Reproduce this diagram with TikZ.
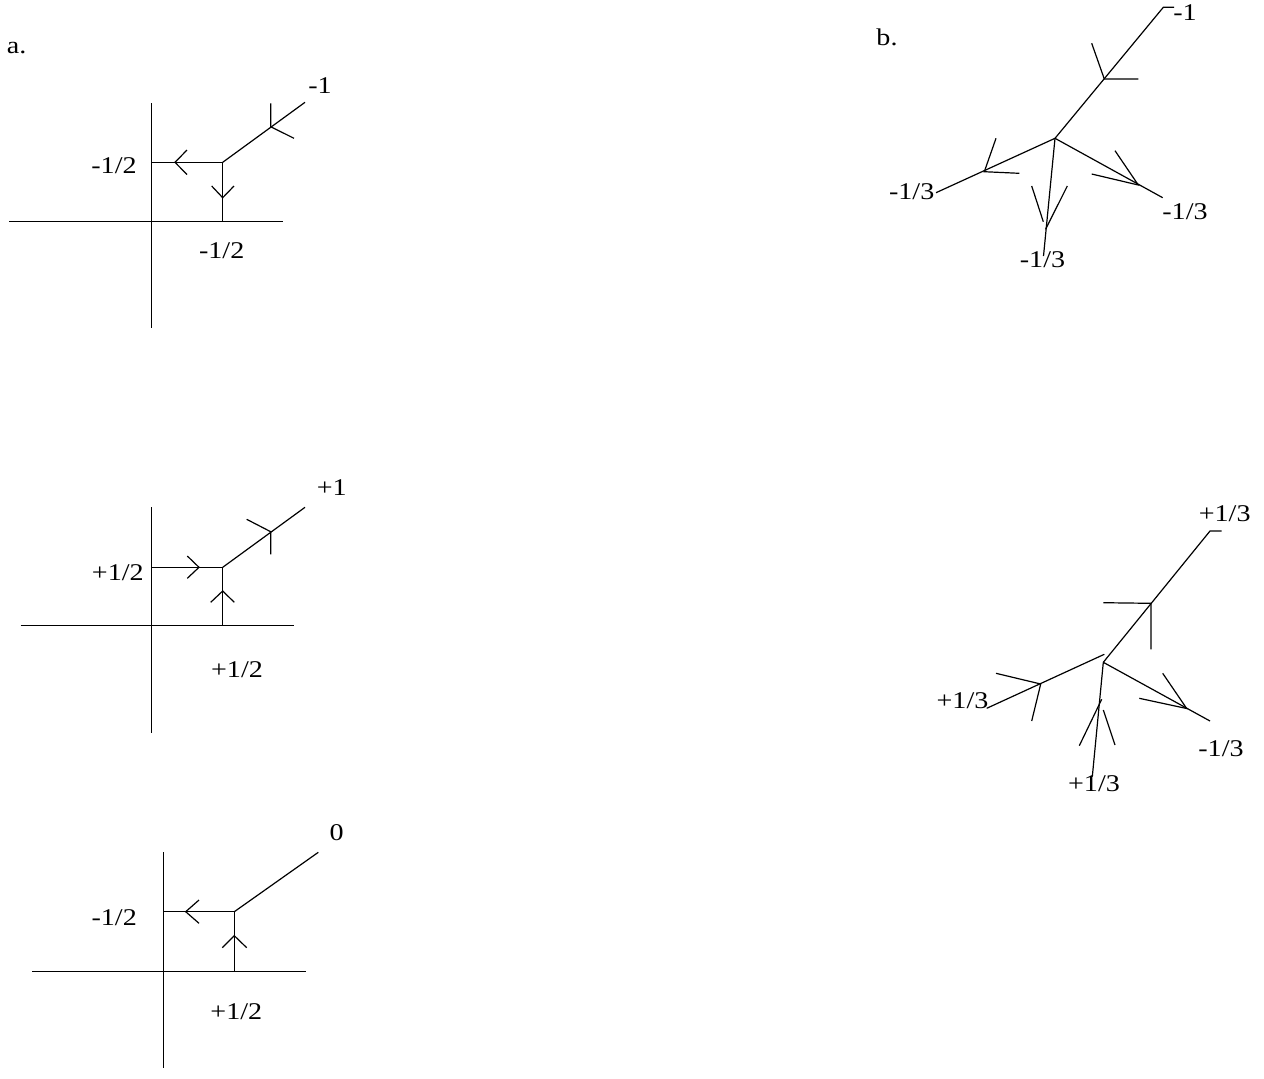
\documentclass[tikz,border=0pt]{standalone}
\usepackage{fontspec}
\setmainfont{Liberation Serif}
\newcommand\stretchlbl[1]{\scalebox{1.17}[1]{#1}}
\begin{document}
\begin{tikzpicture}[x=0.5pt,y=-0.5pt, line width=0.6pt,
  lbl/.style={inner sep=0pt, font=\fontsize{12}{14}\selectfont}]
\useasboundingbox (0,0) rectangle (1264,1078);
% ---------------- panel a, top ----------------
\node[lbl] (la) at (16.7,48) {\stretchlbl{a.}};
\coordinate (a1vt) at (151.7,103); \coordinate (a1vb) at (151.7,328);
\coordinate (a1hl) at (9,221.7); \coordinate (a1hr) at (283,221.7);
\coordinate (a1P) at (222.7,162.3); \coordinate (a1L) at (151.7,162.3);
\coordinate (a1B) at (222.7,221.7); \coordinate (a1E) at (305,102.3);
\draw (a1vt) -- (a1vb);
\draw (a1hl) -- (a1hr);
\draw (a1L) -- (a1P) -- (a1B);
\draw (a1P) -- (a1E);
\coordinate (a1ht) at (175,162.3);
\draw (187,150) -- (a1ht) -- (187,174.5);
\coordinate (a1vtip) at (222.7,197.7);
\draw (211.7,186) -- (a1vtip) -- (234,186);
\coordinate (a1Q) at (270.7,126.7);
\draw (270.7,103.3) -- (a1Q) -- (294,138.3);
\node[lbl] (a1l1) at (320,86) {\stretchlbl{-1}};
\node[lbl] (a1l2) at (114,166) {\stretchlbl{-1/2}};
\node[lbl] (a1l3) at (221.7,250.7) {\stretchlbl{-1/2}};
% ---------------- panel a, middle ----------------
\coordinate (a2vt) at (151.7,507.3); \coordinate (a2vb) at (151.7,733.3);
\coordinate (a2hl) at (20.7,625.7); \coordinate (a2hr) at (294,625.7);
\coordinate (a2P) at (222.7,567.3); \coordinate (a2L) at (151.7,567.3);
\coordinate (a2B) at (222.7,625.7); \coordinate (a2E) at (305,507.3);
\draw (a2vt) -- (a2vb);
\draw (a2hl) -- (a2hr);
\draw (a2L) -- (a2P) -- (a2B);
\draw (a2P) -- (a2E);
\coordinate (a2ht) at (199,567.3);
\draw (187.3,556) -- (a2ht) -- (187.3,578.3);
\coordinate (a2vtip) at (222.7,591);
\draw (210.7,602.3) -- (a2vtip) -- (234.3,602.3);
\coordinate (a2Q) at (270.7,531.7);
\draw (246.7,519.3) -- (a2Q) -- (270.7,554.3);
\node[lbl] (a2l1) at (331.7,488) {\stretchlbl{+1}};
\node[lbl] (a2l2) at (117.8,572.5) {\stretchlbl{+1/2}};
\node[lbl] (a2l3) at (237,669.7) {\stretchlbl{+1/2}};
% ---------------- panel a, bottom ----------------
\coordinate (a3vt) at (163.3,852.3); \coordinate (a3vb) at (163.3,1067.7);
\coordinate (a3hl) at (32.3,971.7); \coordinate (a3hr) at (306,971.7);
\coordinate (a3P) at (234.3,911.7); \coordinate (a3L) at (163.3,911.7);
\coordinate (a3B) at (234.3,971.7); \coordinate (a3E) at (318.3,852.3);
\draw (a3vt) -- (a3vb);
\draw (a3hl) -- (a3hr);
\draw (a3L) -- (a3P) -- (a3B);
\draw (a3P) -- (a3E);
\coordinate (a3ht) at (185.7,911.7);
\draw (199,900) -- (a3ht) -- (199,923.3);
\coordinate (a3vtip) at (234.3,935.7);
\draw (222.3,947.7) -- (a3vtip) -- (246.7,947.7);
\node[lbl] (a3l1) at (336.7,832.3) {\stretchlbl{0}};
\node[lbl] (a3l2) at (114.2,917.3) {\stretchlbl{-1/2}};
\node[lbl] (a3l3) at (236.3,1011.3) {\stretchlbl{+1/2}};
% ---------------- panel b, top ----------------
\node[lbl] (lb) at (887,37) {\stretchlbl{b.}};
\coordinate (b1C) at (1055,138.3);
\coordinate (b1U) at (1163.3,7.3); \coordinate (b1Ut) at (1174,7.3);
\coordinate (b1R) at (1162.7,197.7);
\coordinate (b1D) at (1043.5,256);
\coordinate (b1L) at (936,192.7);
\draw (b1C) -- (b1U) -- (b1Ut);
\draw (b1C) -- (b1R);
\draw (b1C) -- (b1D);
\draw (b1C) -- (b1L);
\coordinate (b1Q1) at (1104.3,79);
\draw (1091.7,43.3) -- (b1Q1) -- (1138.3,79);
\coordinate (b1Q2) at (1138.3,185);
\draw (1115,150.7) -- (b1Q2) -- (1091.7,174);
\draw (1031.7,186) -- (1043.3,221.7);
\draw (1067.3,186) -- (1045.6,229.3);
\coordinate (b1Q4) at (984.3,171.7);
\draw (996,138.3) -- (b1Q4) -- (1019.3,173.3);
\node[lbl] (b1l1) at (1185,12.5) {\stretchlbl{-1}};
\node[lbl] (b1l2) at (1185,211.7) {\stretchlbl{-1/3}};
\node[lbl] (b1l3) at (1042.5,260) {\stretchlbl{-1/3}};
\node[lbl] (b1l4) at (911.7,191.3) {\stretchlbl{-1/3}};
% ---------------- panel b, bottom ----------------
\coordinate (b2C) at (1103.3,662.3);
\coordinate (b2U) at (1210,531); \coordinate (b2Ut) at (1221.7,531);
\coordinate (b2R) at (1210,721);
\coordinate (b2D) at (1092.3,776.7);
\coordinate (b2L) at (986.7,708.3); \coordinate (b2Lt) at (1104.3,654.3);
\draw (b2C) -- (b2U) -- (b2Ut);
\draw (b2C) -- (b2R);
\draw (b2C) -- (b2D);
\draw (b2L) -- (b2Lt);
\coordinate (b2Q5) at (1151,603.3);
\draw (1103.3,602.7) -- (b2Q5) -- (1151,649.3);
\coordinate (b2Q6) at (1040.7,684);
\draw (996,673.3) -- (b2Q6) -- (1031.7,721);
\draw (1079.3,745.7) -- (1101.7,699.3);
\draw (1115,745) -- (1103.3,710);
\coordinate (b2Q7) at (1186.7,708.5);
\draw (1162.7,673.3) -- (b2Q7) -- (1139.3,698.3);
\node[lbl] (b2l1) at (1224.7,513.3) {\stretchlbl{+1/3}};
\node[lbl] (b2l2) at (962.5,700.7) {\stretchlbl{+1/3}};
\node[lbl] (b2l3) at (1094,783.3) {\stretchlbl{+1/3}};
\node[lbl] (b2l4) at (1221,749) {\stretchlbl{-1/3}};
\end{tikzpicture}
\end{document}
